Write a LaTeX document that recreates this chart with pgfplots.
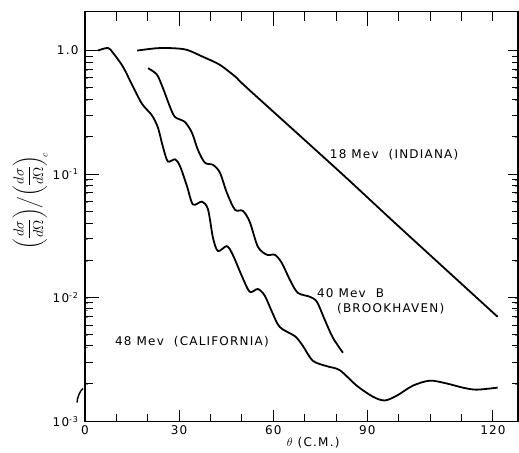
\documentclass[border=0pt]{standalone}
\usepackage{amsmath}
\usepackage{fontspec}
\setmainfont{DejaVu Sans}
\usepackage{pgfplots}
\pgfplotsset{compat=1.18}

% lettering-like font for labels
\newcommand{\lab}{\fontsize{12}{14}\selectfont\addfontfeature{LetterSpace=10}}

\begin{document}
\begin{tikzpicture}
\begin{axis}[
  scale only axis,
  width=433pt, height=410pt,
  ymode=log,
  xmin=0, xmax=138,
  ymin=1e-3, ymax=2.07,
  axis line style={line width=1.2pt},
  xtick={0,30,60,90,130},
  xticklabels={0,30,60,90,120},
  ytick={0.001,0.01,0.1,1},
  yticklabels={10\textsuperscript{-3},10\textsuperscript{-2},10\textsuperscript{-1},1.0},
  tick align=inside,
  major tick length=0pt,
  xticklabel style={font=\lab, yshift=-1pt},
  yticklabel style={font=\lab, xshift=-3pt},
  xlabel={\lab $\theta$ (C.M.)},
  xlabel style={at={(rel axis cs:0.527,0)}, anchor=center, yshift=-21pt},
  ylabel={\fontsize{14}{16}\selectfont
    $\left(\dfrac{d\sigma}{d\Omega}\right)\!\Big/\!\left(\dfrac{d\sigma}{d\Omega}\right)_{\!c}$},
  ylabel style={at={(axis description cs:-0.127,0.538)}, anchor=center},
]

% 48 Mev (California)
\addplot[black, line width=1.8pt, smooth, tension=0.5] coordinates {
  (4.1,1.0) (7.3,1.05) (8.9,0.96) (12.1,0.74) (15.3,0.51) (18.2,0.37)
  (21.3,0.30) (23.2,0.24) (24.8,0.168) (26.4,0.127) (28.7,0.132) (30.3,0.116)
  (32.5,0.080) (34.4,0.057) (37.3,0.060) (39.2,0.052) (40.8,0.0305)
  (42.4,0.0239) (45.2,0.0262) (47.1,0.0223) (50.0,0.0150) (52.5,0.0112)
  (55.1,0.0118) (57.3,0.0104) (59.6,0.0077) (62.1,0.0058) (66.9,0.0049)
  (69.4,0.0041) (72.6,0.0031) (77.1,0.0028) (81.2,0.0026) (86.6,0.00195)
  (91.7,0.00159) (95.5,0.00148) (99.4,0.00162) (104.5,0.00195) (109.9,0.00214)
  (115.3,0.00203) (120.4,0.00188) (124.8,0.00181) (131.5,0.00188)
};

% 40 Mev B (Brookhaven)
\addplot[black, line width=1.8pt, smooth, tension=0.5] coordinates {
  (20.1,0.72) (22.9,0.64) (24.8,0.50) (27.1,0.35) (28.7,0.29) (31.8,0.265)
  (34.1,0.216) (36.0,0.157) (38.2,0.124) (40.8,0.119) (43.0,0.103)
  (45.2,0.071) (47.8,0.0516) (50.3,0.0506) (52.5,0.0412) (55.1,0.0259)
  (58.0,0.0223) (60.5,0.0223) (62.7,0.0192) (65.3,0.0140) (67.8,0.0110)
  (71.7,0.0102) (73.9,0.0093) (76.4,0.00666) (79.0,0.00476) (82.2,0.0036)
};

% 18 Mev (Indiana)
\addplot[black, line width=1.8pt, smooth, tension=0.5] coordinates {
  (16.6,1.0) (22.9,1.045) (28.0,1.045) (32.5,1.013) (37.6,0.89) (43.0,0.766)
  (48.4,0.60) (51.6,0.50) (81.2,0.1045) (100.0,0.0378) (131.5,0.00703)
};

\node[font=\lab, anchor=west, inner sep=0pt] at (axis cs:78.0,0.1435) {18 Mev\ \ (INDIANA)};
\node[font=\lab, anchor=west, inner sep=0pt] at (axis cs:73.9,0.011) {40 Mev\ \ B};
\node[font=\lab, anchor=west, inner sep=0pt] at (axis cs:80.3,0.00816) {(BROOKHAVEN)};
\node[font=\lab, anchor=west, inner sep=0pt] at (axis cs:9.55,0.00442) {48 Mev\ \ (CALIFORNIA)};
\end{axis}

% inward tick marks on all four sides (axis box is 433pt x 410pt,
% x from 0 to 138, y from log10 = -3 to log10(2.07) = 0.31597)
\begin{scope}[shift={(current axis.south west)}, line width=1pt]
  \foreach \u in {30,60,90,130}
    \draw ({\u/138*433*1pt},0pt) -- ++(0,12pt);
  \foreach \u in {10,20,40,50,70,80,100,110,120}
    \draw ({\u/138*433*1pt},0pt) -- ++(0,8pt);
  \foreach \u in {30,60,90}
    \draw ({\u/138*433*1pt},410pt) -- ++(0,-14pt);
  \foreach \u in {10,20,40,50,70,80,100,110,120,130}
    \draw ({\u/138*433*1pt},410pt) -- ++(0,-9pt);
  \foreach \v in {0.01,0.1,1} {
    \draw (0pt,{(log10(\v)+3)/3.31597*410*1pt}) -- ++(14pt,0);
    \draw (433pt,{(log10(\v)+3)/3.31597*410*1pt}) -- ++(-10pt,0);
  }
  \foreach \v in {0.002,0.003,0.004,0.005,0.006,0.007,0.008,0.009,
                  0.02,0.03,0.04,0.05,0.06,0.07,0.08,0.09,
                  0.2,0.3,0.4,0.5,0.6,0.7,0.8,0.9} {
    \draw (0pt,{(log10(\v)+3)/3.31597*410*1pt}) -- ++(8pt,0);
    \draw (433pt,{(log10(\v)+3)/3.31597*410*1pt}) -- ++(-6pt,0);
  }
\end{scope}

% small stroke left of the axis near 2x10^-3, as in the scan
\draw[line width=1.4pt] ([shift={(-2pt,33pt)}]current axis.south west)
  .. controls ++(-3pt,-2pt) and ++(0pt,4pt) .. ++(-6pt,-14pt);
% extend the picture to the reference's margins
\path ([shift={(-85pt,-31.3pt)}]current axis.south west);
\path ([shift={(1pt,11.5pt)}]current axis.north east);
\end{tikzpicture}
\end{document}
